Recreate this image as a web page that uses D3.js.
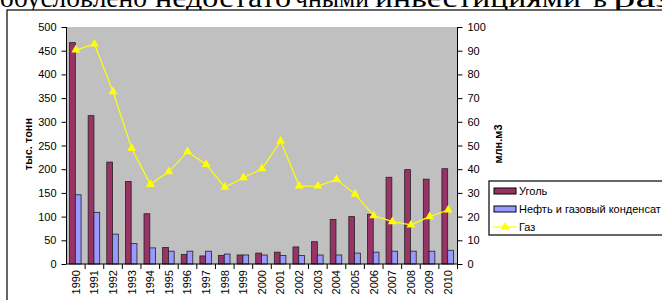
<!DOCTYPE html>
<html><head><meta charset="utf-8">
<script src="https://cdn.jsdelivr.net/npm/d3@7"></script>
<style>body{margin:0;background:#fff}svg{display:block}</style>
</head><body>
<svg id="c" width="662" height="300"></svg>
<script>
const years = ["1990","1991","1992","1993","1994","1995","1996","1997","1998","1999","2000","2001","2002","2003","2004","2005","2006","2007","2008","2009","2010"];
const coal = [467, 313, 215, 174, 106, 35, 20, 17, 18, 19, 23, 25, 36, 47, 94, 100, 105, 183, 199, 179, 201];
const oil = [146, 109, 63, 43, 34, 27, 27, 27, 21, 19, 19, 18, 18, 19, 19, 23, 25, 27, 27, 27, 29];
const gas = [90.3, 92.8, 72.7, 48.8, 33.6, 39, 47.4, 42, 32.4, 36.4, 40.2, 51.9, 32.9, 32.9, 35.7, 29.5, 20.4, 17.9, 16.5, 20, 22.8];
const seriesNames = ["Уголь", "Нефть и газовый конденсат", "Газ"];
const leftTicks = [0,50,100,150,200,250,300,350,400,450,500];
const rightTicks = [0,10,20,30,40,50,60,70,80,90,100];
const leftTitle = "тыс. тонн";
const rightTitle = "млн.м3";
const headWords = ["обусловлено","недостато","чными","инвестициями","в","раз"];

const svg = d3.select("#c");
const sans = "'Liberation Sans', Arial, sans-serif";

// header text (document line above the chart, clipped by the page top)
const headPos = [[0,147],[155,136],[295,74],[375,206],[593,14],[613,60]];
headWords.forEach((w,i)=>{
  svg.append("text").attr("x",headPos[i][0]).attr("y",7)
    .attr("font-family","'Liberation Serif','Times New Roman',serif").attr("font-size",27)
    .attr("textLength",headPos[i][1]).attr("lengthAdjust","spacingAndGlyphs")
    .text(w);
});
// chart frame
svg.append("rect").attr("x",7).attr("y",10).attr("width",670).attr("height",300)
  .attr("fill","#fff").attr("stroke","#000").attr("stroke-width",1.2);

const L = 66.5, R = 457.5, T = 27, B = 264;
const x = d3.scaleBand().domain(years).range([L,R]).padding(0);
const yL = d3.scaleLinear().domain([0,500]).range([B,T]);
const yR = d3.scaleLinear().domain([0,100]).range([B,T]);

svg.append("rect").attr("x",L).attr("y",T).attr("width",R-L).attr("height",B-T).attr("fill","#c0c0c0");

const bw = x.bandwidth();
const pw = bw*0.62;
const xs = d3.scaleBand().domain(["coal","oil"]).range([0,pw]);
const off = (bw-pw)/2 - 0.5;

const g = svg.append("g");
g.selectAll(".coal").data(years).join("rect")
  .attr("x",(d)=>x(d)+off+xs("coal")).attr("width",xs.bandwidth())
  .attr("y",(d,i)=>yL(coal[i])).attr("height",(d,i)=>B-yL(coal[i]))
  .attr("fill","#993366").attr("stroke","#222").attr("stroke-width",0.8);
g.selectAll(".oil").data(years).join("rect")
  .attr("x",(d)=>x(d)+off+xs("oil")).attr("width",xs.bandwidth())
  .attr("y",(d,i)=>yL(oil[i])).attr("height",(d,i)=>B-yL(oil[i]))
  .attr("fill","#9999ff").attr("stroke","#222").attr("stroke-width",0.8);

// gas line
const line = d3.line().x((d,i)=>x(years[i])+bw/2).y(d=>yR(d));
svg.append("path").datum(gas).attr("d",line).attr("fill","none").attr("stroke","#ffff00").attr("stroke-width",1.2);
const tri = d3.symbol().type(d3.symbolTriangle).size(34);
svg.selectAll(".tri").data(gas).join("path")
  .attr("transform",(d,i)=>`translate(${x(years[i])+bw/2},${yR(d)})`)
  .attr("d",tri).attr("fill","#ffff00");

// axes
const axL = svg.append("g").attr("transform",`translate(${L},0)`)
  .call(d3.axisLeft(yL).tickValues(leftTicks).tickSize(5).tickPadding(5));
const axR = svg.append("g").attr("transform",`translate(${R},0)`)
  .call(d3.axisRight(yR).tickValues(rightTicks).tickSize(5).tickPadding(5));
const axB = svg.append("g").attr("transform",`translate(0,${B})`)
  .call(d3.axisBottom(x).tickSize(0).tickPadding(6));
[axL,axR,axB].forEach(a=>{
  a.selectAll("text").attr("font-family",sans).attr("font-size",11).attr("fill","#000");
  a.selectAll("line").attr("stroke","#000");
  a.select(".domain").attr("stroke","#000");
});
axL.select(".domain").attr("d",`M0,${T}V${B}`);
axR.select(".domain").attr("d",`M0,${T}V${B}`);
axB.select(".domain").attr("d",`M${L},0H${R}`);
axB.selectAll(".tick text").attr("transform","rotate(-90)").attr("text-anchor","end")
  .attr("x",-6).attr("y",0).attr("dy","0.35em");
// category separators on bottom axis
svg.append("g").selectAll("line").data(years.slice(1)).join("line")
  .attr("x1",d=>x(d)).attr("x2",d=>x(d)).attr("y1",B).attr("y2",B+5).attr("stroke","#000");
svg.append("line").attr("x1",R).attr("x2",R).attr("y1",B).attr("y2",B+5).attr("stroke","#000");

// axis titles
svg.append("text").attr("transform","translate(32,144) rotate(-90)").attr("text-anchor","middle")
  .attr("font-family",sans).attr("font-size",11).attr("font-weight","bold").text(leftTitle);
svg.append("text").attr("transform","translate(502,144) rotate(-90)").attr("text-anchor","middle")
  .attr("font-family",sans).attr("font-size",11).attr("font-weight","bold").text(rightTitle);

// legend
const lg = svg.append("g");
lg.append("rect").attr("x",489).attr("y",181).attr("width",200).attr("height",54)
  .attr("fill","#fff").attr("stroke","#000").attr("stroke-width",1.2);
const ly = [191,209,227];
lg.append("rect").attr("x",494).attr("y",ly[0]-3).attr("width",22).attr("height",6).attr("fill","#993366").attr("stroke","#000");
lg.append("rect").attr("x",494).attr("y",ly[1]-3).attr("width",22).attr("height",6).attr("fill","#9999ff").attr("stroke","#000");
lg.append("line").attr("x1",493).attr("x2",517).attr("y1",ly[2]).attr("y2",ly[2]).attr("stroke","#ffff00").attr("stroke-width",1.2);
lg.append("path").attr("transform",`translate(505,${ly[2]})`).attr("d",tri).attr("fill","#ffff00");
seriesNames.forEach((s,i)=>{
  lg.append("text").attr("x",519).attr("y",ly[i]).attr("dy","0.35em")
    .attr("font-family",sans).attr("font-size",11).text(s);
});
</script>
</body></html>
